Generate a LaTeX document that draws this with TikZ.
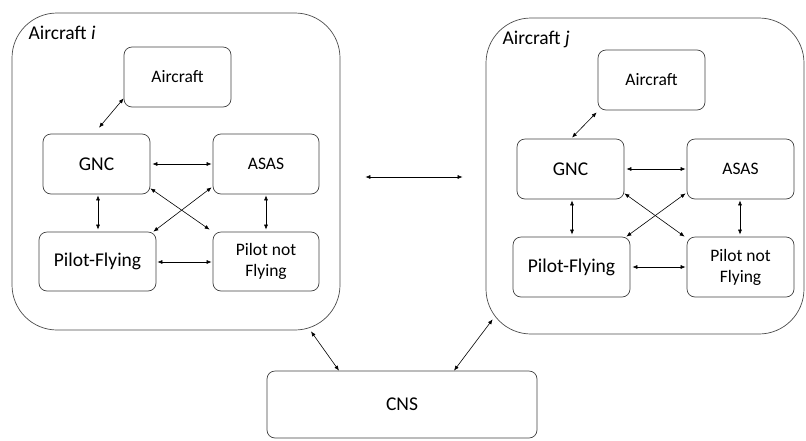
\documentclass[tikz,border=0pt]{standalone}
\usepackage{fontspec}
\setmainfont{Carlito}
\usetikzlibrary{calc,arrows.meta}

\tikzset{
  unit/.style={draw=black!75, line width=0.7pt, rounded corners=8, align=center, inner sep=0pt},
  frame/.style={draw=black!70, line width=0.7pt, rounded corners=45, inner sep=0pt},
  link/.style={line width=0.6pt, {Latex[length=5,width=4]}-{Latex[length=5,width=4]}},
  big/.style={font=\fontsize{19.5}{22}\selectfont},
  small/.style={font=\fontsize{17.5}{21}\selectfont},
}

\begin{document}
\begin{tikzpicture}[x=1pt,y=-1pt]
\useasboundingbox (0,0) rectangle (806,440);

% aircraft i
\node[frame, minimum width=328, minimum height=317] (outerI) at (176,171.5) {};
\node[anchor=west, font=\fontsize{19.5}{22}\selectfont] (labI) at (25,33) {Aircraft \textit{i}};
\node[unit, small, minimum width=107, minimum height=60] (acI)   at (177.5,77)  {Aircraft};
\node[unit, big,   minimum width=107, minimum height=60] (gncI)  at (96.5,164)  {GNC};
\node[unit, small, minimum width=106, minimum height=60] (asasI) at (266,164)   {ASAS};
\node[unit, big,   minimum width=117, minimum height=59] (pfI)   at (97.5,261.5) {Pilot-Flying};
\node[unit, small, minimum width=106, minimum height=59] (pnfI)  at (266,261.5) {Pilot not\\Flying};

\draw[link] ($(gncI.north)+(2.5,-6)$) -- ($(acI.south west)+(0,-9)$);
\draw[link] ($(gncI.east)+(2,0)$) -- ($(asasI.west)+(-1,0)$);
\draw[link] ($(gncI.south)+(1.5,1)$) -- ($(pfI.north)+(0.5,-2)$);
\draw[link] ($(asasI.south)+(0,1)$) -- ($(pnfI.north)+(0,-2)$);
\draw[link] ($(pfI.east)+(1,0.5)$) -- ($(pnfI.west)+(-1,0.5)$);
\draw[link] ($(gncI.south east)+(0,-6)$) -- ($(pnfI.north west)+(-3,-2)$);
\draw[link] ($(asasI.south west)+(-1,-7)$) -- ($(pfI.north east)+(-3,0)$);

% aircraft j
\node[frame, minimum width=318, minimum height=316] (outerJ) at (645,176) {};
\node[anchor=west, font=\fontsize{19.5}{22}\selectfont] (labJ) at (499,39) {Aircraft \textit{j}};
\node[unit, small, minimum width=107, minimum height=60] (acJ)   at (651.5,80)  {Aircraft};
\node[unit, big,   minimum width=107, minimum height=60] (gncJ)  at (570.5,169) {GNC};
\node[unit, small, minimum width=107, minimum height=60] (asasJ) at (740.5,169) {ASAS};
\node[unit, big,   minimum width=117, minimum height=60] (pfJ)   at (571.5,267) {Pilot-Flying};
\node[unit, small, minimum width=107, minimum height=60] (pnfJ)  at (740.5,267) {Pilot not\\Flying};

\draw[link] ($(gncJ.north)+(1.5,-1)$) -- ($(acJ.south west)+(-1,2)$);
\draw[link] ($(gncJ.east)+(2,0)$) -- ($(asasJ.west)+(-1,0)$);
\draw[link] ($(gncJ.south)+(1.5,1)$) -- ($(pfJ.north)+(0.5,-2)$);
\draw[link] ($(asasJ.south)+(-0.5,1)$) -- ($(pnfJ.north)+(-0.5,-2)$);
\draw[link] ($(pfJ.east)+(2,0)$) -- ($(pnfJ.west)+(-1,0)$);
\draw[link] ($(gncJ.south east)+(0,-6)$) -- ($(pnfJ.north west)+(-2,0)$);
\draw[link] ($(asasJ.south west)+(-1,-6)$) -- ($(pfJ.north east)+(-4,0)$);

% link between the two aircraft
\draw[link] ($(outerI.east)+(25,5.5)$) -- ($(outerJ.west)+(-23,1)$);

% CNS
\node[unit, big, minimum width=270, minimum height=67] (cns) at (402,404.5) {CNS};
\draw[link] ($(outerI.south)+(135,1)$) -- ($(cns.north)+(-63,0)$);
\draw[link] ($(cns.north)+(52,0)$) -- ($(outerJ.south west)+(7,-15)$);
\end{tikzpicture}
\end{document}
